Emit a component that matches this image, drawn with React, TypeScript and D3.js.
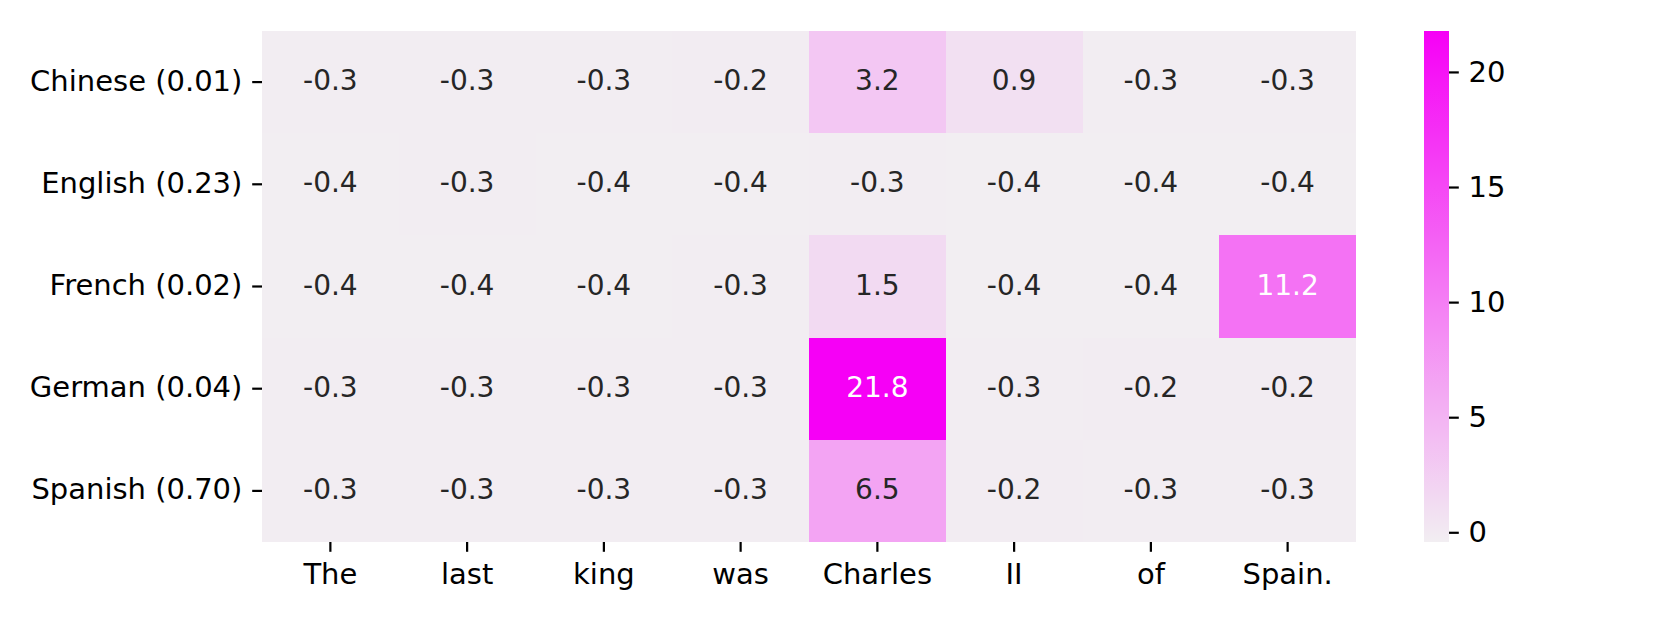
import React from "react";
import * as d3 from "d3";

const rows = ["Chinese (0.01)", "English (0.23)", "French (0.02)", "German (0.04)", "Spanish (0.70)"];
const cols = ["The", "last", "king", "was", "Charles", "II", "of", "Spain."];
const chinese = [-0.3, -0.3, -0.3, -0.2, 3.2, 0.9, -0.3, -0.3];
const english = [-0.4, -0.3, -0.4, -0.4, -0.3, -0.4, -0.4, -0.4];
const french = [-0.4, -0.4, -0.4, -0.3, 1.5, -0.4, -0.4, 11.2];
const german = [-0.3, -0.3, -0.3, -0.3, 21.8, -0.3, -0.2, -0.2];
const spanish = [-0.3, -0.3, -0.3, -0.3, 6.5, -0.2, -0.3, -0.3];
const values = [chinese, english, french, german, spanish];
const cbTicks = [0, 5, 10, 15, 20];

const W = 1661, H = 623;
const left = 262, right = 1356, top = 31, bottom = 542;
const cbLeft = 1424, cbRight = 1449;
const font = "'DejaVu Sans', sans-serif";
const fs = 28;
const lfs = 29;

export default function App() {
  const all = values.flat();
  const vmin = d3.min(all)!;
  const vmax = d3.max(all)!;
  const x = d3.scaleBand<string>().domain(cols).range([left, right]);
  const y = d3.scaleBand<string>().domain(rows).range([top, bottom]);
  const color = d3.scaleLinear<string>().domain([vmin, vmax]).range(["#f2eef2", "#f600f6"]).interpolate(d3.interpolateRgb);
  const cbY = d3.scaleLinear().domain([vmin, vmax]).range([bottom, top]);
  const stops = d3.range(0, 1.0001, 0.1);
  const lum = (c: string) => {
    const r = d3.rgb(c);
    const f = (v: number) => { v /= 255; return v <= 0.03928 ? v / 12.92 : Math.pow((v + 0.055) / 1.055, 2.4); };
    return 0.2126 * f(r.r) + 0.7152 * f(r.g) + 0.0722 * f(r.b);
  };
  const tl = 9.8, tw = 2.2, pad = 9.8;
  return (
    <svg width={W} height={H} style={{ position: "absolute", left: 0, top: 0, fontFamily: font }}>
      <defs>
        <linearGradient id="cb" x1="0" y1="1" x2="0" y2="0">
          {stops.map((s) => (
            <stop key={s} offset={s} stopColor={color(vmin + s * (vmax - vmin))} />
          ))}
        </linearGradient>
      </defs>
      <rect x={0} y={0} width={W} height={H} fill="white" />
      {values.map((row, i) =>
        row.map((v, j) => (
          <rect key={`${i}-${j}`} x={x(cols[j])!} y={y(rows[i])!} width={x.bandwidth()} height={y.bandwidth()} fill={color(v)} shapeRendering="crispEdges" />
        ))
      )}
      {values.map((row, i) =>
        row.map((v, j) => (
          <text key={`t${i}-${j}`} x={x(cols[j])! + x.bandwidth() / 2} y={y(rows[i])! + y.bandwidth() / 2} dy="0.29em" textAnchor="middle" fontSize={fs} fill={lum(color(v)) > 0.408 ? "#262626" : "#ffffff"}>
            {v.toFixed(1)}
          </text>
        ))
      )}
      {rows.map((r) => {
        const cy = y(r)! + y.bandwidth() / 2;
        return (
          <g key={r}>
            <line x1={left - tl} x2={left} y1={cy} y2={cy} stroke="black" strokeWidth={tw} />
            <text x={left - tl - pad} y={cy} dy="0.29em" textAnchor="end" fontSize={lfs} fill="black">{r}</text>
          </g>
        );
      })}
      {cols.map((c) => {
        const cx = x(c)! + x.bandwidth() / 2;
        return (
          <g key={c}>
            <line x1={cx} x2={cx} y1={bottom} y2={bottom + tl} stroke="black" strokeWidth={tw} />
            <text x={cx} y={bottom + tl + pad} dy="0.76em" textAnchor="middle" fontSize={lfs} fill="black">{c}</text>
          </g>
        );
      })}
      <rect x={cbLeft} y={top} width={cbRight - cbLeft} height={bottom - top} fill="url(#cb)" />
      {cbTicks.map((t) => (
        <g key={t}>
          <line x1={cbRight} x2={cbRight + tl} y1={cbY(t)} y2={cbY(t)} stroke="black" strokeWidth={tw} />
          <text x={cbRight + tl + pad} y={cbY(t)} dy="0.33em" textAnchor="start" fontSize={lfs} fill="black">{t}</text>
        </g>
      ))}
    </svg>
  );
}
